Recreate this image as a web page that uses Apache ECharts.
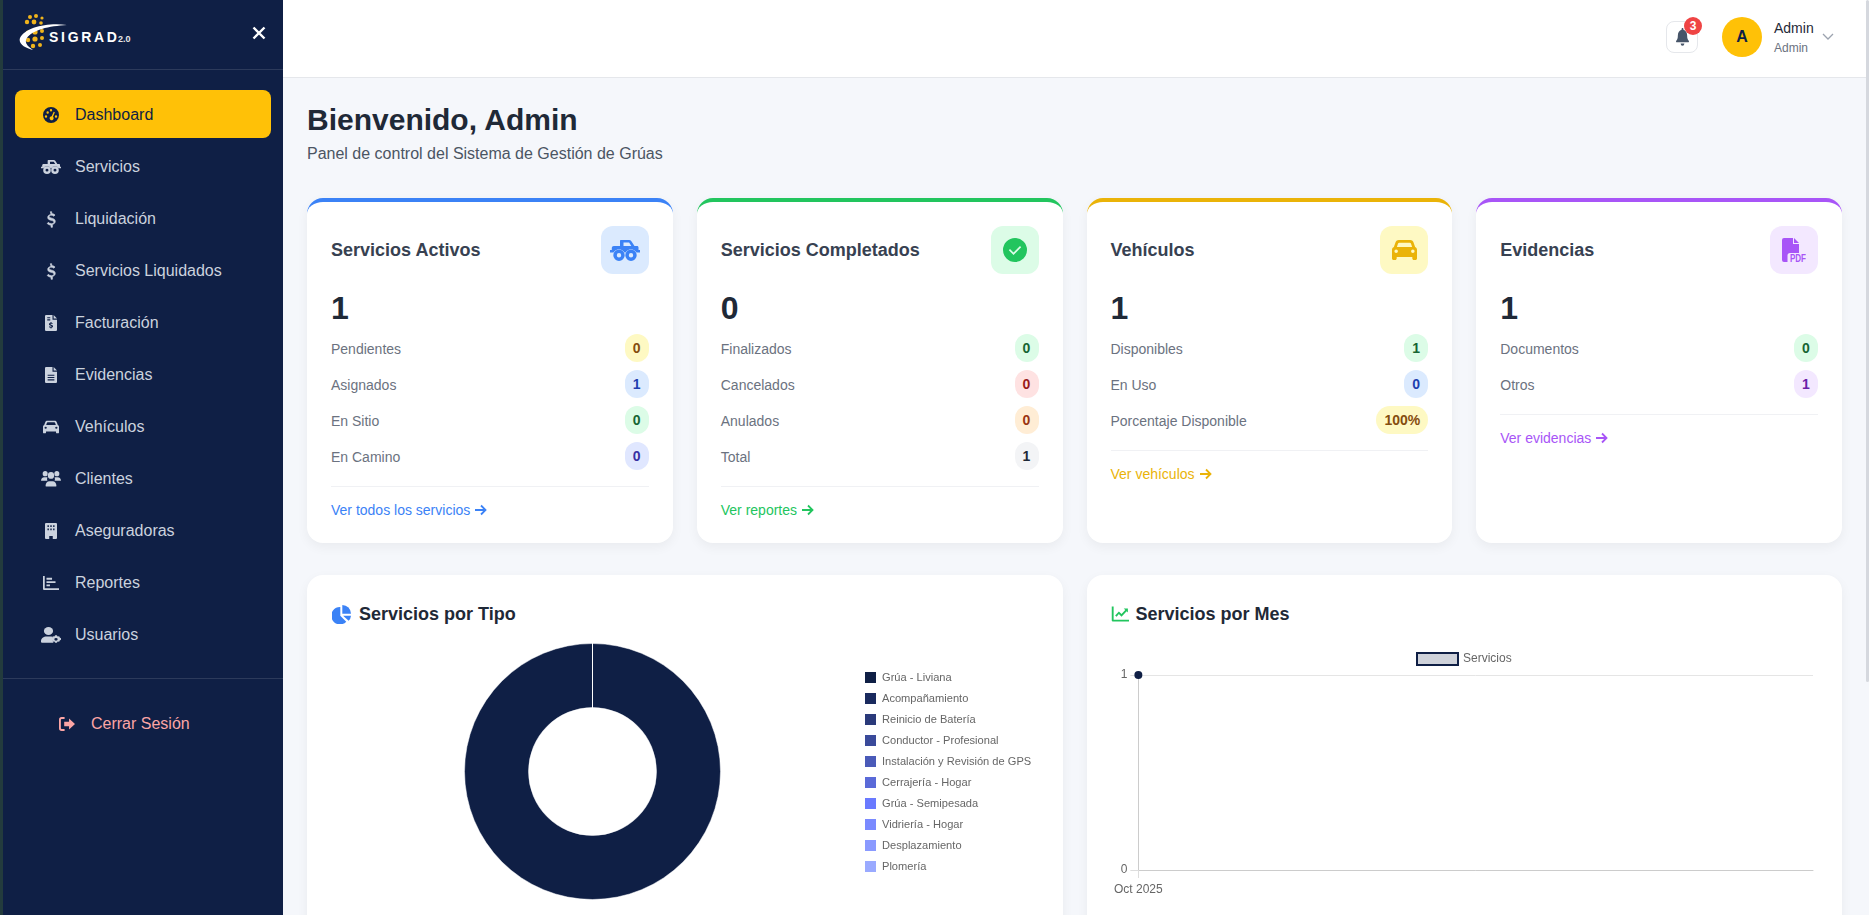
<!DOCTYPE html>
<html lang="es">
<head>
<meta charset="utf-8">
<title>SIGRAD Dashboard</title>
<script src="https://cdn.jsdelivr.net/npm/echarts@6/dist/echarts.min.js"></script>
<style>
* { box-sizing: border-box; }
html, body { margin: 0; width: 1869px; height: 915px; overflow: hidden; background: #f5f7fb; font-family: "Liberation Sans", Arial, sans-serif; }
svg { display: block; }
#strip { position: absolute; left: 0; top: 0; width: 3px; height: 915px; background: #233b3d; }
#side { position: absolute; left: 3px; top: 0; width: 280px; height: 915px; background: #0f1f45; }
#side .line { position: absolute; left: 0; width: 280px; height: 1px; background: rgba(255,255,255,.12); }
#logo { position: absolute; left: 16px; top: 12px; }
#closeBtn { position: absolute; left: 249px; top: 26px; color: #fff; }
.item { position: absolute; left: 12px; width: 256px; height: 48px; border-radius: 8px; padding-left: 24px; padding-top: 2px; display: flex; align-items: center; color: #cbd2de; font-size: 16px; }
.item .ic { width: 24px; display: flex; justify-content: center; margin-right: 12px; }
.item.on { background: #ffc107; color: #0f1f45; }
#logout { position: absolute; left: 56px; top: 712px; height: 24px; display: flex; align-items: center; color: #fca5a5; font-size: 16px; }
#logout svg { margin-right: 16px; }
#top { position: absolute; left: 283px; top: 0; width: 1586px; height: 78px; background: #fff; border-bottom: 1px solid #e5e7eb; }
#bell { position: absolute; left: 1666px; top: 21px; width: 32px; height: 32px; border: 1px solid #e5e7eb; border-radius: 8px; display: flex; align-items: center; justify-content: center; color: #475569; }
#badge { position: absolute; left: 1684px; top: 17px; width: 18px; height: 18px; border-radius: 9px; background: #ef4444; color: #fff; font-size: 12px; font-weight: bold; text-align: center; line-height: 18px; }
#avatar { position: absolute; left: 1722px; top: 17px; width: 40px; height: 40px; border-radius: 20px; background: #ffc107; color: #0f1f45; font-size: 16px; font-weight: bold; text-align: center; line-height: 40px; }
#uname { position: absolute; left: 1774px; top: 20px; font-size: 14px; line-height: 16px; color: #1f2937; }
#urole { position: absolute; left: 1774px; top: 41px; font-size: 12px; line-height: 14px; color: #6b7280; }
#chev { position: absolute; left: 1822px; top: 33px; color: #9ca3af; }
#scroll { position: absolute; left: 1866px; top: 0; width: 3px; height: 682px; background: #d5d8de; border-radius: 2px; }
h1 { position: absolute; left: 307px; top: 101px; margin: 0; font-size: 30px; line-height: 38px; font-weight: bold; color: #1f2937; }
#sub { position: absolute; left: 307px; top: 144px; font-size: 16px; line-height: 20px; color: #4b5563; }
.card { position: absolute; top: 198px; width: 365.75px; height: 345px; background: #fff; border-radius: 16px; border-top: 4px solid; box-shadow: 0 4px 12px rgba(0,0,0,.05); padding: 24px 24px 0; }
.head { display: flex; justify-content: space-between; align-items: center; height: 48px; font-size: 18px; font-weight: bold; color: #374151; }
.box { width: 48px; height: 48px; border-radius: 12px; display: flex; align-items: center; justify-content: center; }
.num { margin-top: 16px; margin-bottom: 4px; height: 36px; line-height: 36px; font-size: 32px; font-weight: bold; color: #1f2937; }
.row { height: 36px; display: flex; justify-content: space-between; align-items: center; font-size: 14px; color: #6b7280; }
.row > span:first-child { position: relative; top: 1px; }
.pill { height: 28px; min-width: 24px; padding: 0 8px; border-radius: 14px; line-height: 29px; font-weight: bold; text-align: center; }
.more { margin-top: 12px; border-top: 1px solid #f0f1f4; padding-top: 13px; font-size: 14px; line-height: 20px; display: flex; align-items: center; }
.more svg { margin-left: 4px; }
.panel { position: absolute; top: 575px; width: 755.5px; height: 360px; background: #fff; border-radius: 16px; box-shadow: 0 4px 12px rgba(0,0,0,.05); }
.ptitle { position: absolute; left: 24px; top: 28px; height: 22px; display: flex; align-items: center; font-size: 18px; font-weight: bold; color: #1f2937; }
#tipoChart { position: absolute; left: 331px; top: 640px; width: 708px; height: 265px; }
#mesChart { position: absolute; left: 1111px; top: 640px; width: 707px; height: 265px; }
</style>
</head>
<body>
<div id="strip"></div>
<div id="side">
  <svg id="logo" width="116" height="42" viewBox="0 0 116 42">
    <g fill="#f0b41c">
      <circle cx="11" cy="5" r="2"/><circle cx="17" cy="4" r="2"/><circle cx="23" cy="6" r="1.6"/><circle cx="8" cy="10" r="2.2"/><circle cx="15" cy="10" r="2.4"/><circle cx="22" cy="11" r="1.8"/>
      <circle cx="9" cy="21" r="2.4"/><circle cx="16" cy="20" r="2.6"/><circle cx="23" cy="19" r="2"/><circle cx="9" cy="28" r="2.2"/>
      <circle cx="16" cy="27" r="2.6"/><circle cx="23" cy="26" r="2"/><circle cx="14" cy="34" r="2.2"/><circle cx="21" cy="33" r="2"/>
    </g>
    <path d="M48 13C30 10 6 15 1 26c-2 6 5 10 13 12C8 34 5 30 8 26 13 18 30 14 48 13z" fill="#fff"/>
    <text x="30" y="30" font-size="14" font-weight="bold" fill="#fff" letter-spacing="2.7">SIGRAD</text>
    <text x="99" y="29.5" font-size="9" font-weight="bold" fill="#e8e8e8">2.0</text>
  </svg>
  <svg id="closeBtn" width="14" height="14" viewBox="0 0 14 14"><path d="M1.5 1.5l11 11M12.5 1.5l-11 11" stroke="currentColor" stroke-width="2.4" fill="none"/></svg>
  <div class="line" style="top:69px"></div>
  <div id="menu"></div>
  <div class="line" style="top:678px"></div>
  <div id="logout"></div>
</div>
<div id="top"></div>
<div id="bell"></div>
<div id="badge">3</div>
<div id="avatar">A</div>
<div id="uname">Admin</div>
<div id="urole">Admin</div>
<svg id="chev" width="12" height="8" viewBox="0 0 12 8"><path d="M1 1l5 5 5-5" stroke="currentColor" stroke-width="1.3" fill="none"/></svg>
<div id="scroll"></div>
<h1>Bienvenido, Admin</h1>
<div id="sub">Panel de control del Sistema de Gestión de Grúas</div>
<div id="cards"></div>
<div class="panel" style="left:307px"><div class="ptitle" id="t1"></div></div>
<div class="panel" style="left:1086.5px"><div class="ptitle" id="t2"></div></div>
<div id="tipoChart"></div>
<div id="mesChart"></div>

<script>
// datos de los graficos
var tipoLabels = ['Grúa - Liviana', 'Acompañamiento', 'Reinicio de Batería', 'Conductor - Profesional', 'Instalación y Revisión de GPS', 'Cerrajería - Hogar', 'Grúa - Semipesada', 'Vidriería - Hogar', 'Desplazamiento', 'Plomería']
var tipoValues = [1, 0, 0, 0, 0, 0, 0, 0, 0, 0]
var tipoColors = ['#0f1f45', '#1a2a5e', '#2a3a7a', '#3a4a9a', '#4a5ab8', '#5a6ad8', '#6a7aff', '#7a8aff', '#8a9aff', '#9aaaff']
var mesLabels = ['Oct 2025']
var mesValues = [1]

// menu lateral y tarjetas
var menuLabels = ['Dashboard', 'Servicios', 'Liquidación', 'Servicios Liquidados', 'Facturación', 'Evidencias', 'Vehículos', 'Clientes', 'Aseguradoras', 'Reportes', 'Usuarios']
var menuIcons = ['gauge', 'tow', 'dollar', 'dollar', 'fileDollar', 'fileLines', 'car', 'users', 'building', 'bars', 'userCog']

var activosRows = [['Pendientes', 0, 'y'], ['Asignados', 1, 'b'], ['En Sitio', 0, 'g'], ['En Camino', 0, 'i']]
var completadosRows = [['Finalizados', 0, 'g'], ['Cancelados', 0, 'r'], ['Anulados', 0, 'o'], ['Total', 1, 'n']]
var vehiculosRows = [['Disponibles', 1, 'g'], ['En Uso', 0, 'b'], ['Porcentaje Disponible', '100%', 'y']]
var evidenciasRows = [['Documentos', 0, 'g'], ['Otros', 1, 'p']]

var pillColors = {
    y: ['#fef9c3', '#854d0e'], b: ['#dbeafe', '#1e40af'], g: ['#dcfce7', '#166534'], i: ['#e0e7ff', '#3730a3'],
    r: ['#fee2e2', '#991b1b'], o: ['#ffedd5', '#9a3412'], n: ['#f3f4f6', '#1f2937'], p: ['#f3e8ff', '#6b21a8']
}

var cardList = [
    { title: 'Servicios Activos', total: 1, rows: activosRows, link: 'Ver todos los servicios', icon: 'tow', w: 30, h: 21, color: '#3b82f6', soft: '#dbeafe', left: 307 },
    { title: 'Servicios Completados', total: 0, rows: completadosRows, link: 'Ver reportes', icon: 'check', w: 24, h: 24, color: '#22c55e', soft: '#dcfce7', left: 696.75 },
    { title: 'Vehículos', total: 1, rows: vehiculosRows, link: 'Ver vehículos', icon: 'car', w: 25, h: 22, color: '#eab308', soft: '#fef9c3', left: 1086.5 },
    { title: 'Evidencias', total: 1, rows: evidenciasRows, link: 'Ver evidencias', icon: 'pdf', w: 24, h: 24, color: '#a855f7', soft: '#f3e8ff', left: 1476.25 }
]

// iconos dibujados a mano, cada uno con su viewBox
var icons = {
    gauge: ['0 0 24 24', '<path fill-rule="evenodd" d="M12 0a12 12 0 1 0 0 24 12 12 0 0 0 0-24zM7 6.5a1.8 1.8 0 1 1 0 3.6 1.8 1.8 0 0 1 0-3.6zM12 3a1.8 1.8 0 1 1 0 3.6A1.8 1.8 0 0 1 12 3zM4.5 12.5a1.8 1.8 0 1 1 0 3.6 1.8 1.8 0 0 1 0-3.6zM19.500 12.500a1.8 1.8 0 1 1 0 3.6 1.8 1.8 0 0 1 0-3.6zM16 7l1.800.8-2.800 7a3 3 0 1 1-2-.8z"/>'],
    tow: ['0 0 30 21', '<path fill-rule="evenodd" d="M11 0h8c1 0 1.800.4 2.400 1.200L24.500 6H27c1 0 1.500.7 1.500 1.600V10H30v2.400h-3.500a6.500 6.500 0 0 0-11 0h-1a6.500 6.500 0 0 0-11 0H0V10h1.800V8c0-1.100.9-2 2-2H10V1c0-.6.4-1 1-1zM13.500 2.500V6h7.800l-2.200-3.500z"/><path fill-rule="evenodd" d="M9 9.500a5.700 5.700 0 1 0 0 11.400A5.700 5.700 0 0 0 9 9.500zM9 13a2.200 2.200 0 1 1 0 4.400A2.200 2.200 0 0 1 9 13zM21 9.500a5.700 5.700 0 1 0 0 11.400 5.700 5.700 0 0 0 0-11.400zM21 13a2.200 2.200 0 1 1 0 4.400 2.200 2.200 0 0 1 0-4.400z"/>'],
    dollar: ['5 0 14 24', '<path stroke="currentColor" stroke-width=".9" d="M11 1h2v2.600c2 .2 3.600 1 4.600 2l-1.500 1.800c-1-.9-2.300-1.500-3.900-1.500-1.800 0-2.800.8-2.800 1.900 0 1.300 1.300 1.700 3.600 2.300 2.800.7 5 1.700 5 4.400 0 2.300-1.600 4-4 4.400V23h-2v-2.900c-2.300-.2-4.200-1.100-5.300-2.300l1.500-1.800c1.100 1.100 2.600 1.900 4.500 1.900 2 0 3.300-.9 3.300-2.200 0-1.400-1.400-1.900-3.800-2.500-2.600-.7-4.800-1.600-4.800-4.200 0-2.200 1.700-3.700 4.600-4.100z"/>'],
    fileDollar: ['4 1 16 22', '<path fill-rule="evenodd" d="M5.500 1H14v6.500h6v14a1.500 1.500 0 0 1-1.500 1.500h-13A1.500 1.500 0 0 1 4 21.500v-19A1.500 1.500 0 0 1 5.500 1zM7 4v1.500h4V4zM7 7v1.500h4V7zM11.400 10.500v1.100c-1.300.2-2.100 1-2.100 2.100 0 1.300 1.100 1.700 2.400 2.100.9.200 1.200.4 1.200.8s-.4.700-1.100.7c-.7 0-1.300-.3-1.800-.7l-.8 1c.5.500 1.300.8 2.200.9v1.100h1.200v-1.100c1.300-.2 2.100-1 2.100-2.100 0-1.300-1.100-1.800-2.400-2.100-.9-.2-1.200-.4-1.200-.8s.4-.6 1-.6c.6 0 1.100.2 1.500.5l.8-1c-.5-.4-1.100-.7-1.800-.7v-1.100z"/><path d="M15.500 1L20 5.800h-4.500z"/>'],
    fileLines: ['4 1 16 22', '<path fill-rule="evenodd" d="M5.500 1H14v6.500h6v14a1.500 1.500 0 0 1-1.500 1.500h-13A1.500 1.500 0 0 1 4 21.500v-19A1.500 1.500 0 0 1 5.500 1zM7.500 11.500V13h9v-1.500zM7.500 14.700v1.500h9v-1.500zM7.500 17.900v1.500h9v-1.500z"/><path d="M15.500 1L20 5.800h-4.500z"/>'],
    car: ['0 2 24 22', '<path fill-rule="evenodd" d="M6.500 3h11c1.400 0 2.500.8 3 2l1.700 5c1.100.5 1.800 1.500 1.800 2.800v8.700c0 .8-.7 1.500-1.500 1.500H21c-.8 0-1.500-.7-1.500-1.500V20h-15v1.500C4.500 22.300 3.800 23 3 23H1.500C.7 23 0 22.300 0 21.500v-8.700c0-1.300.7-2.300 1.800-2.800L3.500 5c.5-1.200 1.600-2 3-2zM7 5.700c-.6 0-1 .3-1.200.9L4.700 10h14.600l-1.100-3.400c-.2-.6-.6-.9-1.200-.9zM4 12.500a1.700 1.700 0 1 0 0 3.400 1.700 1.700 0 0 0 0-3.400zM20 12.500a1.700 1.700 0 1 0 0 3.400 1.700 1.700 0 0 0 0-3.400z"/>'],
    users: ['0 4 24 18', '<circle cx="5" cy="7" r="3"/><circle cx="19" cy="7" r="3"/><circle cx="12" cy="9" r="3.800"/><path d="M0 15.500C0 12.500 1.500 11 4 11h2.500c.5 0 .9.1 1.300.3-.7 1.300-.6 2.500-.1 3.700H0zM24 15.500c0-3-1.500-4.500-4-4.500h-2.500c-.5 0-.9.1-1.300.3.7 1.300.6 2.500.1 3.700H24zM5.500 20.500c0-3 2-5 4.500-5h4c2.500 0 4.500 2 4.500 5 0 .6-.4 1-1 1h-11c-.6 0-1-.4-1-1z"/>'],
    building: ['3.5 1 17 22', '<path fill-rule="evenodd" d="M5 1h14a1.500 1.500 0 0 1 1.500 1.500v19A1.500 1.500 0 0 1 19 23h-4.500v-4h-5v4H5a1.500 1.500 0 0 1-1.500-1.500v-19A1.500 1.500 0 0 1 5 1zM7 4v2.500h2V4zM11 4v2.500h2V4zM15 4v2.500h2V4zM7 8.500V11h2V8.500zM11 8.500V11h2V8.500zM15 8.500V11h2V8.500z"/>'],
    bars: ['1 3 23 19', '<path d="M1 3h2.500v16.500H24V22H2.500A1.500 1.500 0 0 1 1 20.500z"/><path d="M6 5.500h8V8H6zM6 10h13v2.500H6zM6 14.500h5V17H6z"/>'],
    userCog: ['0 1 24 22', '<circle cx="9" cy="6.500" r="5.500"/><path d="M0 20.500C0 16.500 3 14 7 14h4c1.200 0 2 .2 3 .7-.7 2.500-.2 5.800 1 7.800H1.500A1.500 1.500 0 0 1 0 20.500z"/><path fill-rule="evenodd" d="M19 12.500l1 1.600 1.800-.3.700 1.700 1.500 1v2l-1.500 1-.7 1.700-1.800-.3-1 1.600h-2l-1-1.600-1.800.3-.7-1.700-1.500-1v-2l1.500-1 .7-1.700 1.800.3 1-1.600zM18 16a2 2 0 1 0 0 4 2 2 0 0 0 0-4z"/>'],
    logout: ['1.5 3 21.5 18', '<path d="M9 3v2.500H5c-.6 0-1 .4-1 1v11c0 .6.4 1 1 1h4V21H5a3.500 3.500 0 0 1-3.500-3.500v-11A3.500 3.500 0 0 1 5 3z"/><path d="M15 5l8 7-8 7v-4H8.500V9H15z"/>'],
    check: ['0 0 24 24', '<path fill-rule="evenodd" d="M12 0a12 12 0 1 0 0 24 12 12 0 0 0 0-24zM17 8l1.200 1.200-7.700 7.700-4.700-4.700L7 11l3.500 3.500z"/>'],
    pdf: ['0 0 24 24', '<path d="M2 0h9v6h6v9H8a2.500 2.500 0 0 0-2.500 2.500V24H2a2 2 0 0 1-2-2V2a2 2 0 0 1 2-2z"/><path d="M12 0l5 5h-5z"/><text x="8" y="24" font-size="10" font-weight="bold" fill="currentColor" textLength="16" lengthAdjust="spacingAndGlyphs">PDF</text>'],
    pie: ['0 0 24 24', '<path d="M10.500 2.500v11l7.500 7.500A11 11 0 1 1 10.500 2.500z"/><path d="M13 0a11 11 0 0 1 11 11H13z"/><path d="M14 13.500h10a11 11 0 0 1-3 6.500z"/>'],
    line: ['0 0 24 24', '<path d="M1 2h2.500v17.500H24V22H2.500A1.500 1.500 0 0 1 1 20.500z"/><path d="M5.500 14l5-5.500 3.500 3.500L20 5.500l1.800 1.700-7.800 8.300-3.500-3.500-3 3.500z"/><path d="M17 4.500h5.500V10z"/>'],
    bell: ['0 0 24 24', '<path d="M12 0c-.9 0-1.500.7-1.500 1.500v.9C7 3.100 4.600 6 4.600 9.500c0 4.500-1.300 6-2.600 7.400-.4.400-.5.800-.3 1.300.2.500.6.800 1.100.8h18.400c.5 0 .9-.3 1.100-.8.200-.5.100-.9-.3-1.300-1.300-1.400-2.600-2.900-2.600-7.400 0-3.500-2.400-6.400-5.900-7.100v-.9C13.500.7 12.900 0 12 0zM9 20.500a3 3 0 0 0 6 0z"/>']
}
var menuIconSizes = { gauge: [16, 16], tow: [20, 14], dollar: [10, 17], fileDollar: [12, 16], fileLines: [12, 16], car: [16, 14], users: [20, 16], building: [12, 16], bars: [16, 14], userCog: [20, 16] }

function svgIcon(name, w, h) {
    return '<svg width="' + w + '" height="' + h + '" viewBox="' + icons[name][0] + '" preserveAspectRatio="none" fill="currentColor">' + icons[name][1] + '</svg>'
}

// menu
var menuHtml = ''
menuLabels.forEach(function (label, i) {
    var size = menuIconSizes[menuIcons[i]]
    menuHtml += '<div class="item' + (i === 0 ? ' on' : '') + '" style="top:' + (90 + i * 52) + 'px"><span class="ic">' +
        svgIcon(menuIcons[i], size[0], size[1]) + '</span>' + label + '</div>'
})
document.getElementById('menu').innerHTML = menuHtml
document.getElementById('logout').innerHTML = svgIcon('logout', 16, 14) + 'Cerrar Sesión'
document.getElementById('bell').innerHTML = svgIcon('bell', 15, 18)
document.getElementById('t1').innerHTML = '<span style="color:#3b82f6;margin-right:8px;margin-left:1px">' + svgIcon('pie', 19, 19) + '</span>Servicios por Tipo'
document.getElementById('t2').innerHTML = '<span style="color:#22c55e;margin-right:7px">' + svgIcon('line', 18, 18) + '</span>Servicios por Mes'

// tarjetas
var arrow = '<svg width="13" height="12" viewBox="0 0 13 12"><path d="M1 6h10M7 1.500L11.500 6 7 10.500" stroke="currentColor" stroke-width="1.800" fill="none"/></svg>'
var cardsHtml = ''
cardList.forEach(function (c) {
    var rowsHtml = ''
    c.rows.forEach(function (r) {
        var pc = pillColors[r[2]]
        rowsHtml += '<div class="row"><span>' + r[0] + '</span><span class="pill" style="background:' + pc[0] + ';color:' + pc[1] + '">' + r[1] + '</span></div>'
    })
    cardsHtml += '<div class="card" style="left:' + c.left + 'px;border-top-color:' + c.color + '">' +
        '<div class="head"><span>' + c.title + '</span><span class="box" style="background:' + c.soft + ';color:' + c.color + '">' + svgIcon(c.icon, c.w, c.h) + '</span></div>' +
        '<div class="num">' + c.total + '</div>' + rowsHtml +
        '<div class="more" style="color:' + c.color + '">' + c.link + arrow + '</div></div>'
})
document.getElementById('cards').innerHTML = cardsHtml

var chartFont = 'Liberation Sans'

// dona
var tipoChart = echarts.init(document.getElementById('tipoChart'))
tipoChart.setOption({
    animation: false,
    textStyle: { fontFamily: chartFont },
    legend: {
        orient: 'vertical',
        left: 532,
        top: 30,
        padding: 0,
        icon: 'rect',
        itemWidth: 13,
        itemHeight: 13,
        itemGap: 6,
        textStyle: { fontFamily: chartFont, fontSize: 11.1, lineHeight: 14, color: '#666' },
        data: tipoLabels
    },
    series: [{
        type: 'pie',
        center: [261.5, 131.5],
        radius: [64, 128],
        startAngle: 90,
        label: { show: false },
        labelLine: { show: false },
        silent: true,
        itemStyle: { borderColor: '#fff', borderWidth: 0.5 },
        data: tipoLabels.map(function (name, i) {
            return { name: name, value: tipoValues[i], itemStyle: { color: tipoColors[i] } }
        })
    }]
})

// linea, una sola categoria: la vacia deja el punto en el borde izquierdo
var mesChart = echarts.init(document.getElementById('mesChart'))
mesChart.setOption({
    animation: false,
    textStyle: { fontFamily: chartFont },
    legend: {
        left: 305,
        top: 12,
        padding: 0,
        itemWidth: 41,
        itemHeight: 12,
        itemGap: 8,
        textStyle: { fontFamily: chartFont, fontSize: 12, color: '#666', padding: [-2, 0, 0, 0] },
        data: [{ name: 'Servicios', icon: 'rect', itemStyle: { color: 'rgba(15,31,69,0.2)', borderColor: '#0f1f45', borderWidth: 2 } }]
    },
    grid: { left: 27, right: 5, top: 35, height: 195 },
    xAxis: {
        type: 'category',
        boundaryGap: false,
        data: mesLabels.concat(['']),
        axisLine: { lineStyle: { color: '#ccc', width: 1 } },
        axisTick: { length: 8, lineStyle: { color: '#ddd' }, interval: function (i) { return i === 0 } },
        axisLabel: { fontFamily: chartFont, color: '#666', fontSize: 12, margin: 14 },
        splitLine: { show: false }
    },
    yAxis: {
        type: 'value',
        min: 0,
        max: 1,
        interval: 1,
        axisLine: { show: true, lineStyle: { color: '#ccc', width: 1 } },
        axisTick: { show: true, length: 8, lineStyle: { color: '#ddd' } },
        axisLabel: { fontFamily: chartFont, color: '#666', fontSize: 12, margin: 11 },
        splitLine: { lineStyle: { color: '#e5e5e5', width: 1 } }
    },
    series: [{
        name: 'Servicios',
        type: 'line',
        clip: false,
        symbol: 'circle',
        symbolSize: 8,
        showSymbol: true,
        lineStyle: { color: '#0f1f45' },
        itemStyle: { color: '#0f1f45' },
        data: mesValues
    }]
})
</script>
</body>
</html>
